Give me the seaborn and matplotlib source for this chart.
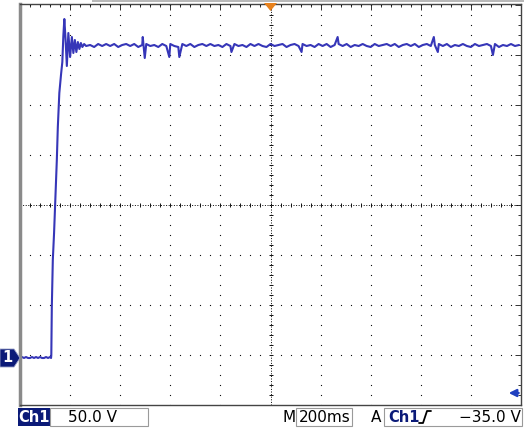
import numpy as np
import pandas as pd
import matplotlib
matplotlib.use('Agg')
import matplotlib.pyplot as plt
import seaborn as sns
from matplotlib.patches import Polygon, Rectangle
from matplotlib.lines import Line2D

sns.set_style("white")
plt.rcParams['font.family'] = ['DejaVu Sans']

W, H = 524, 428

# Ch1 trace: time in ms (trigger at screen centre), volts (ground = 0 V)
base_t = np.arange(-1000, -879, 8)
base_v = [0, 1, 0, 1, 0, 0, 1, 0, 1, 0, 1, 0, 0, 1, 0, 1]

rise_t = [-876, -875, -873, -869, -864, -860, -853, -849, -843, -836, -831,
          -827, -823, -818, -813, -807, -800, -793, -787, -781, -775, -769,
          -763, -757, -751, -744, -736]
rise_v = [0, 3, 51, 98, 125, 151, 198, 231, 265, 284, 296,
          322, 339, 318, 292, 325, 301, 321, 305, 318, 306, 316,
          309, 315, 311, 314, 312]

flat_t = np.arange(-720, 1001, 16)
flat_v = [313, 311, 314, 312, 314, 312, 314, 311, 313, 314,
          312, 314, 311, 313, 314, 312, 313, 311, 314, 312,
          314, 312, 311, 314, 312, 314, 311, 313, 314, 312,
          314, 312, 313, 311, 314, 312, 314, 312, 313, 311,
          314, 312, 314, 312, 311, 314, 312, 313, 314, 311,
          313, 314, 312, 314, 312, 313, 311, 314, 312, 314,
          311, 313, 314, 312, 314, 311, 313, 312, 314, 312,
          311, 314, 312, 313, 314, 312, 314, 311, 313, 314,
          312, 314, 311, 313, 314, 312, 313, 314, 312, 314,
          311, 313, 312, 314, 312, 311, 314, 312, 313, 314,
          312, 314, 311, 313, 312, 314, 312, 313]

spike_t = [-510, -502, -404, -364, -156, 124, 268, 652, 668, 888]
spike_v = [321, 300, 301, 301, 306, 306, 321, 321, 306, 303]

trig_level = -35   # V
volts_div = 50
time_div = 200

df = pd.DataFrame({
    't': np.concatenate([base_t, rise_t, flat_t, spike_t]),
    'v': np.concatenate([base_v, rise_v, flat_v, spike_v]),
}).sort_values('t', kind='stable')


def fx(x):
    return x / W


def fy(y):
    return 1 - y / H


fig = plt.figure(figsize=(W / 100, H / 100), dpi=100)
ax = fig.add_axes([fx(20), fy(405), 501 / W, 401 / H])

ymin, ymax = -47, 354
ax.set_xlim(-1000, 1000)
ax.set_ylim(ymin, ymax)

xmaj = np.arange(-1000, 1001, time_div)
xmin = np.arange(-1000, 1001, time_div / 5)
ymaj = np.arange(ymin, ymax, volts_div)
ymin_t = np.arange(ymin, ymax, volts_div / 5)
ax.set_xticks(xmaj)
ax.set_xticks(xmin, minor=True)
ax.set_yticks(ymaj)
ax.set_yticks(ymin_t, minor=True)
ax.tick_params(which='both', direction='in', top=True, right=True,
               labelbottom=False, labelleft=False, color='#333333', width=0.7)
ax.tick_params(which='major', length=4)
ax.tick_params(which='minor', length=2.5)

# dotted graticule
dot = dict(ls='none', marker='s', ms=0.8, mew=0, color='#111111')
cx, cy = 0, ymaj[4]
for gx in xmaj[1:-1]:
    if gx != cx:
        ax.plot([gx] * len(ymin_t), ymin_t, **dot)
for gy in ymaj[1:]:
    if gy != cy:
        ax.plot(xmin, [gy] * len(xmin), **dot)
ax.axhline(cy, color='#111111', lw=0.72, ls=(0, (1, 1.6)))
ax.axvline(cx, color='#111111', lw=0.72, ls=(0, (1, 1.6)))
ax.plot(xmin, [cy] * len(xmin), ls='none', marker='|', ms=3.5, mew=0.7, color='#111111')
ax.plot([cx] * len(ymin_t), ymin_t, ls='none', marker='_', ms=3.5, mew=0.7, color='#111111')

for s in ['top', 'bottom', 'right']:
    ax.spines[s].set_color('#444444')
    ax.spines[s].set_linewidth(1.0)
    ax.spines[s].set_linestyle((0, (1, 1)))
ax.spines['left'].set_color('#8a8a8a')
ax.spines['left'].set_linewidth(2.5)

sns.lineplot(data=df, x='t', y='v', ax=ax, estimator=None, sort=False,
             color='#3636b8', lw=1.5)
ax.set_xlabel('')
ax.set_ylabel('')

# trigger level arrow on the right
ax.annotate('', xy=(940, trig_level), xytext=(1002, trig_level),
            arrowprops=dict(arrowstyle='-|>', color='#2040c0', lw=1.6,
                            mutation_scale=11), annotation_clip=False)

navy = '#0b1a78'
# ground marker "1"
gnd = [(0, 349), (14, 349), (20, 358), (14, 367), (0, 367)]
fig.add_artist(Polygon([(fx(a), fy(b)) for a, b in gnd], closed=True,
                       facecolor=navy, edgecolor='#9aa0c8', lw=0.6,
                       transform=fig.transFigure))
fig.text(fx(7.5), fy(358), '1', color='white', fontsize=10.5, fontweight='bold',
         ha='center', va='center')

# trigger position marker
tri = [(264, 3), (277, 3), (270.5, 11)]
fig.add_artist(Polygon([(fx(a), fy(b)) for a, b in tri], closed=True,
                       facecolor='#e8821e', edgecolor='none',
                       transform=fig.transFigure))
fig.add_artist(Rectangle((fx(92), fy(2)), (W - 92) / W, 2 / H,
                         facecolor='#b8b8b8', edgecolor='none',
                         transform=fig.transFigure))

# status line
fig.add_artist(Rectangle((fx(18), fy(426)), 32 / W, 18 / H, facecolor=navy,
                         edgecolor='none', transform=fig.transFigure))
fig.text(fx(34), fy(417), 'Ch1', color='white', fontsize=10.5, fontweight='bold',
         ha='center', va='center')
fig.add_artist(Rectangle((fx(50), fy(426)), 98 / W, 18 / H, fill=False,
                         edgecolor='#9a9a9a', lw=0.8, transform=fig.transFigure))
fig.text(fx(68), fy(417), f'{volts_div:.1f} V', color='black', fontsize=11,
         ha='left', va='center')

fig.text(fx(283), fy(417), 'M', color='black', fontsize=11, ha='left', va='center')
fig.add_artist(Rectangle((fx(296), fy(426)), 56 / W, 18 / H, fill=False,
                         edgecolor='#9a9a9a', lw=0.8, transform=fig.transFigure))
fig.text(fx(299), fy(417), f'{time_div}ms', color='black', fontsize=11,
         ha='left', va='center')

fig.text(fx(371), fy(417), 'A', color='black', fontsize=11, ha='left', va='center')
fig.add_artist(Rectangle((fx(384), fy(426)), 138 / W, 18 / H, fill=False,
                         edgecolor='#9a9a9a', lw=0.8, transform=fig.transFigure))
fig.text(fx(388), fy(417), 'Ch1', color=navy, fontsize=10.5, fontweight='bold',
         ha='left', va='center')
edge = [(419, 423), (423, 423), (427, 411), (431, 411)]
fig.add_artist(Line2D([fx(a) for a, b in edge], [fy(b) for a, b in edge],
                      color='black', lw=1.3, transform=fig.transFigure))
fig.text(fx(521), fy(417), f'\u2212{abs(trig_level):.1f} V', color='black',
         fontsize=11, ha='right', va='center')

fig.savefig('out.png', dpi=100, facecolor='white')
